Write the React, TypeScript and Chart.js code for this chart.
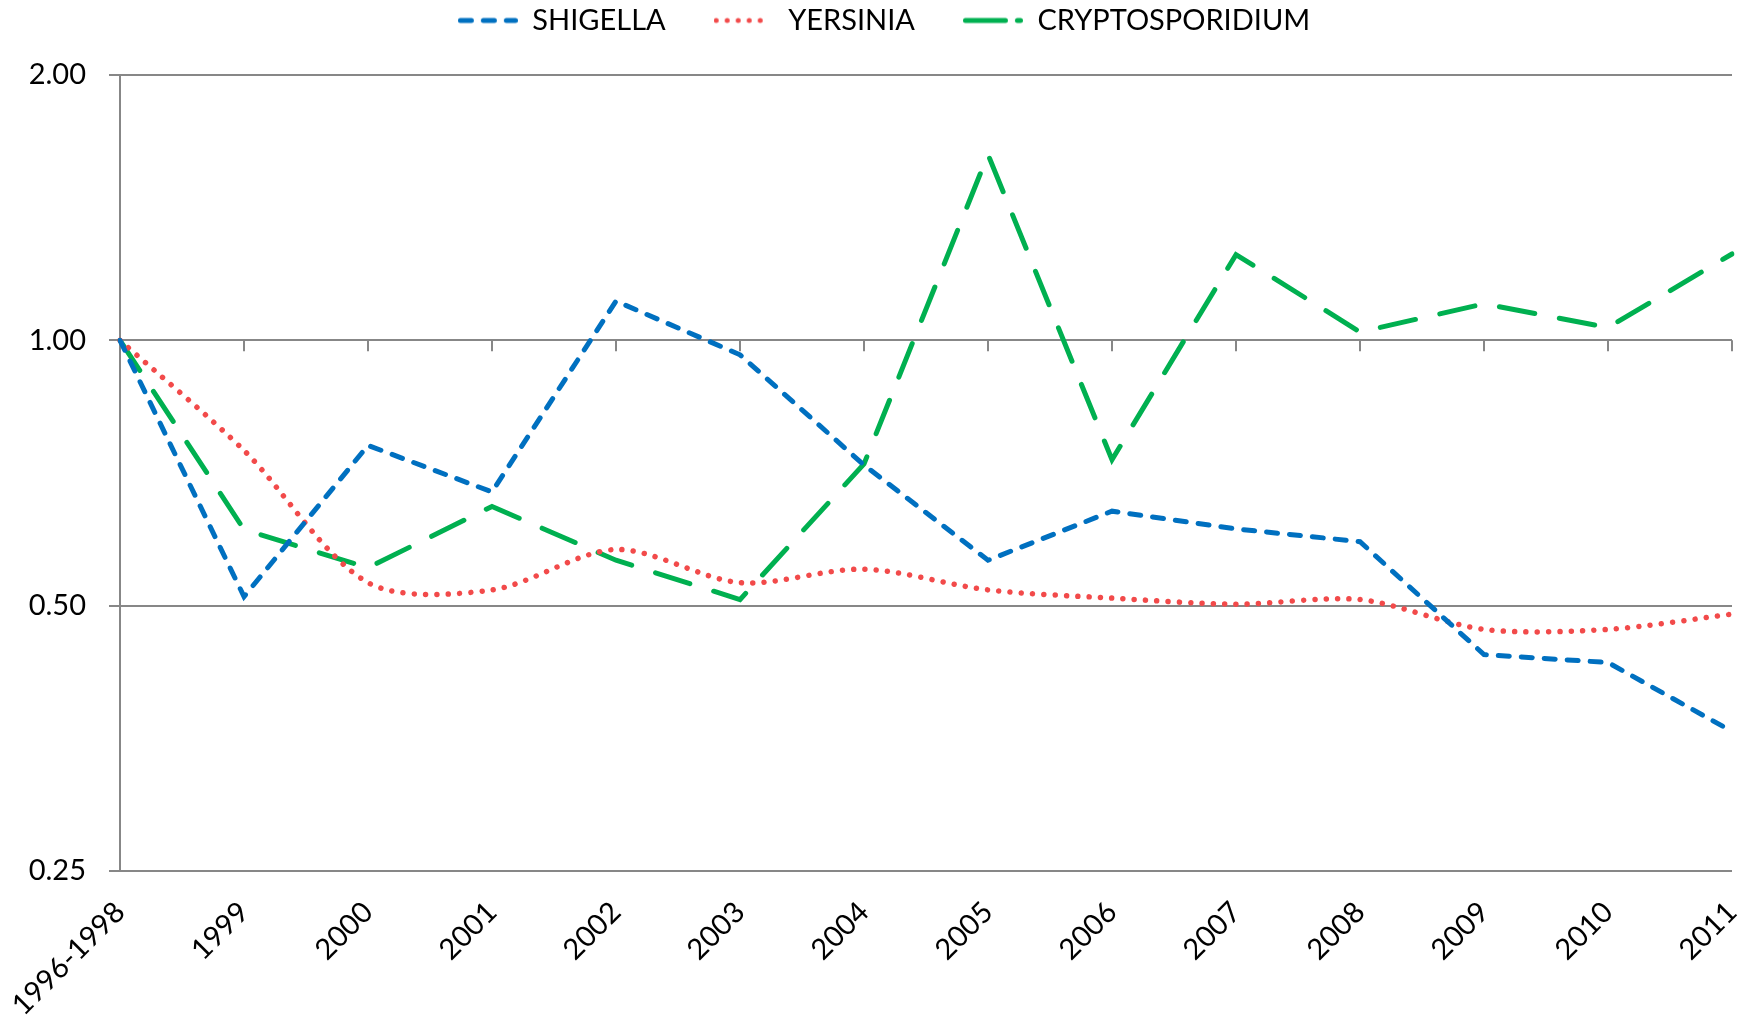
import React, { useEffect, useRef } from 'react';
import { Chart, registerables } from 'chart.js';

Chart.register(...registerables);

const CATEGORIES = ['1996-1998', '1999', '2000', '2001', '2002', '2003', '2004', '2005', '2006', '2007', '2008', '2009', '2010', '2011'];
const SHIGELLA = [1.0, 0.512, 0.76, 0.673, 1.108, 0.963, 0.722, 0.563, 0.64, 0.611, 0.591, 0.44, 0.431, 0.36];
const YERSINIA = [1.0, 0.75, 0.531, 0.521, 0.579, 0.531, 0.55, 0.521, 0.51, 0.502, 0.508, 0.47, 0.47, 0.489];
const CRYPTOSPORIDIUM = [1.0, 0.61, 0.552, 0.648, 0.563, 0.508, 0.724, 1.625, 0.732, 1.251, 1.022, 1.1, 1.034, 1.253];
const SERIES_NAMES = ['SHIGELLA', 'YERSINIA', 'CRYPTOSPORIDIUM'];
const Y_TICKS = [0.25, 0.5, 1, 2];
const X_AXIS_CROSS = 1;

const W = 1756;
const H = 1024;
const FONT = { family: 'Lato', size: 29 };
const GRID = '#878787';
const BLUE = '#0070C0';
const RED = '#F24A4A';
const GREEN = '#00B050';
const LINE_W = 5;

function legendLine(color: string, dash: number[], width = 60): HTMLCanvasElement {
  const c = document.createElement('canvas');
  c.width = width;
  c.height = 8;
  const g = c.getContext('2d')!;
  g.strokeStyle = color;
  g.lineWidth = LINE_W;
  g.lineCap = 'round';
  g.setLineDash(dash);
  g.beginPath();
  g.moveTo(LINE_W / 2, 4);
  g.lineTo(width - LINE_W / 2, 4);
  g.stroke();
  return c;
}

const legendSpacer = {
  id: 'legendSpacer',
  afterInit(chart: any) {
    const lg = chart.legend;
    if (!lg) return;
    const fit = lg.fit;
    lg.fit = function () {
      fit.call(this);
      this.height = 117;
    };
  },
  afterLayout(chart: any) {
    const lg = chart.legend;
    if (!lg) return;
    lg.left += 18;
    lg.right += 18;
  },
};

const crossTicks = {
  id: 'crossTicks',
  beforeDatasetsDraw(chart: any) {
    const { ctx, scales } = chart;
    const x = scales.x;
    const y = scales.y;
    const yPix = y.getPixelForValue(X_AXIS_CROSS);
    ctx.save();
    ctx.strokeStyle = GRID;
    ctx.lineWidth = 2;
    ctx.beginPath();
    x.ticks.forEach((_: any, i: number) => {
      const px = x.getPixelForTick(i);
      ctx.moveTo(px, yPix);
      ctx.lineTo(px, yPix + 11);
    });
    ctx.stroke();
    ctx.restore();
  },
};

export default function App() {
  const ref = useRef<HTMLCanvasElement>(null);

  useEffect(() => {
    if (!ref.current) return;
    const chart = new Chart(ref.current, {
      type: 'line',
      data: {
        labels: CATEGORIES,
        datasets: [
          {
            label: SERIES_NAMES[0],
            data: SHIGELLA,
            borderColor: BLUE,
            backgroundColor: BLUE,
            borderWidth: LINE_W,
            borderDash: [11, 12],
            borderCapStyle: 'round',
            pointRadius: 0,
            pointStyle: legendLine(BLUE, [11, 12]),
            tension: 0,
            fill: false,
          },
          {
            label: SERIES_NAMES[1],
            data: YERSINIA,
            borderColor: RED,
            backgroundColor: RED,
            borderWidth: 5.5,
            borderDash: [0.01, 11.3],
            borderCapStyle: 'round',
            pointRadius: 0,
            pointStyle: legendLine(RED, [0.01, 11]),
            tension: 0.3,
            fill: false,
          },
          {
            label: SERIES_NAMES[2],
            data: CRYPTOSPORIDIUM,
            borderColor: GREEN,
            backgroundColor: GREEN,
            borderWidth: LINE_W,
            borderDash: [36, 25],
            borderCapStyle: 'round',
            pointRadius: 0,
            pointStyle: legendLine(GREEN, [40, 12]),
            tension: 0,
            fill: false,
          },
        ],
      } as any,
      options: {
        responsive: false,
        animation: false,
        devicePixelRatio: 1,
        layout: { padding: { top: -42, right: 24, left: 0, bottom: 0 } },
        plugins: {
          legend: {
            display: true,
            position: 'top',
            labels: {
              usePointStyle: true,
              pointStyleWidth: 60,
              font: FONT,
              color: '#000',
              padding: 48,
            },
          },
          tooltip: { enabled: false },
        },
        scales: {
          x: {
            type: 'category',
            offset: false,
            grid: { display: false, drawTicks: false },
            border: { display: false },
            ticks: {
              font: FONT,
              color: '#000',
              maxRotation: 45,
              minRotation: 45,
              autoSkip: false,
              padding: 24,
            },
            afterFit: (s: any) => {
              s.height = 153;
              s.paddingLeft = 0;
              s.paddingRight = 0;
            },
          },
          y: {
            type: 'logarithmic',
            min: 0.25,
            max: 2,
            afterBuildTicks: (s: any) => {
              s.ticks = Y_TICKS.map((v) => ({ value: v }));
            },
            afterFit: (s: any) => {
              s.width = 120;
            },
            ticks: {
              font: FONT,
              color: '#000',
              padding: 23,
              autoSkip: false,
              callback: (v: any) => Number(v).toFixed(2),
            },
            grid: { color: GRID, lineWidth: 2, tickLength: 11, drawTicks: true },
            border: { display: true, color: GRID, width: 2 },
          },
        },
      } as any,
      plugins: [legendSpacer, crossTicks],
    });
    return () => chart.destroy();
  }, []);

  return (
    <div style={{ position: 'fixed', left: 0, top: 0, width: W, height: H, background: '#fff' }}>
      <canvas ref={ref} width={W} height={H} style={{ display: 'block', width: W, height: H }} />
    </div>
  );
}
